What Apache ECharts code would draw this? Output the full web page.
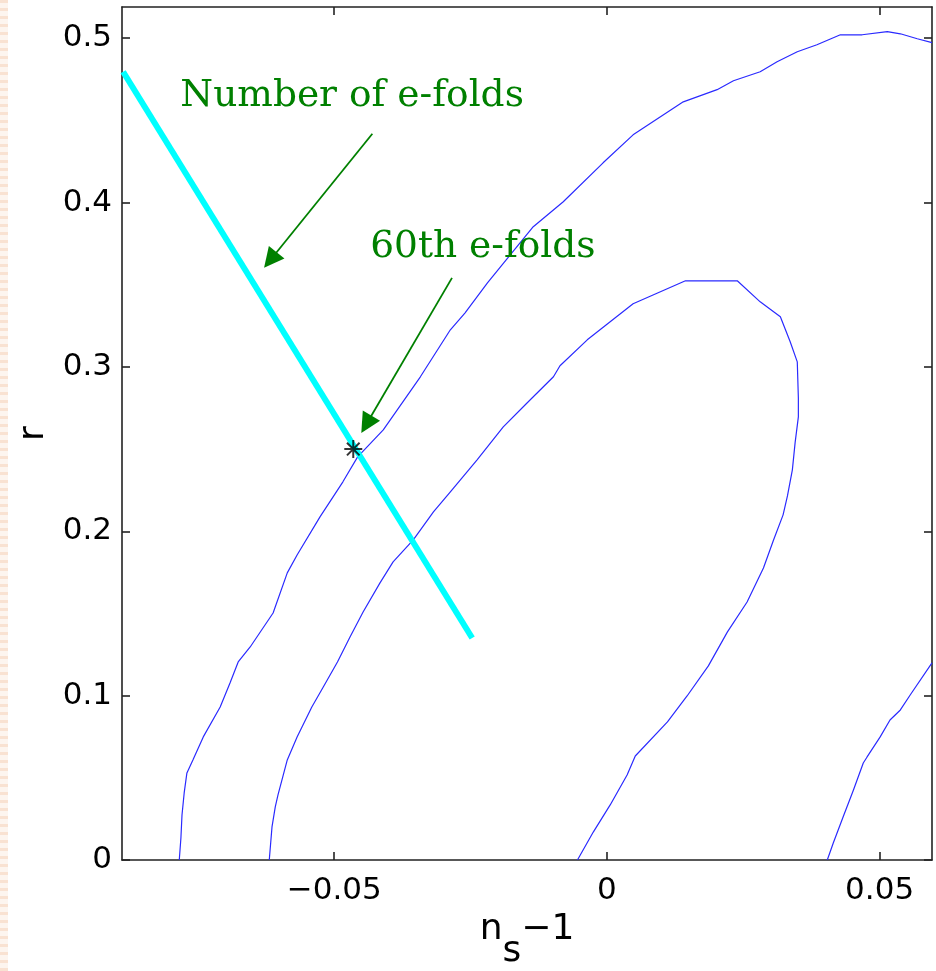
<!DOCTYPE html>
<html>
<head>
<meta charset="utf-8">
<script src="https://cdn.jsdelivr.net/npm/echarts@6/dist/echarts.min.js"></script>
<style>
  html, body { margin: 0; padding: 0; background: #ffffff; }
  #chart { width: 936px; height: 971px; }
</style>
</head>
<body>
<div id="chart"></div>
<script>
// Axis extents and tick values
const xRange = [-0.0889, 0.0596];
const yRange = [0, 0.519];
const xTicks = [-0.05, 0, 0.05];
const yTicks = [0, 0.1, 0.2, 0.3, 0.4, 0.5];

// Likelihood contours in the (n_s - 1, r) plane
const outerContour = [
  [-0.0784, 0.0000], [-0.0781, 0.0134], [-0.0779, 0.0274], [-0.0775, 0.0408],
  [-0.0770, 0.0530], [-0.0759, 0.0609], [-0.0740, 0.0749], [-0.0709, 0.0931],
  [-0.0691, 0.1077], [-0.0676, 0.1205], [-0.0654, 0.1296], [-0.0612, 0.1503],
  [-0.0586, 0.1747], [-0.0568, 0.1856], [-0.0526, 0.2088], [-0.0484, 0.2301],
  [-0.0457, 0.2453], [-0.0410, 0.2617], [-0.0342, 0.2940], [-0.0287, 0.3226],
  [-0.0260, 0.3329], [-0.0219, 0.3512], [-0.0135, 0.3853], [-0.0080, 0.4005],
  [-0.0007, 0.4242], [0.0048, 0.4412], [0.0140, 0.4613], [0.0202, 0.4687],
  [0.0232, 0.4741], [0.0281, 0.4796], [0.0312, 0.4857], [0.0349, 0.4918],
  [0.0385, 0.4960], [0.0428, 0.5021], [0.0468, 0.5021], [0.0514, 0.5040],
  [0.0538, 0.5027], [0.0569, 0.4997], [0.0596, 0.4973]
];
const innerContour = [
  [-0.0619, 0.0000], [-0.0614, 0.0201], [-0.0608, 0.0323], [-0.0603, 0.0396],
  [-0.0586, 0.0609], [-0.0568, 0.0749], [-0.0541, 0.0931], [-0.0520, 0.1053],
  [-0.0494, 0.1205], [-0.0471, 0.1357], [-0.0447, 0.1509], [-0.0416, 0.1686],
  [-0.0392, 0.1814], [-0.0355, 0.1948], [-0.0318, 0.2118], [-0.0287, 0.2240],
  [-0.0238, 0.2435], [-0.0190, 0.2635], [-0.0146, 0.2782], [-0.0098, 0.2940],
  [-0.0086, 0.3007], [-0.0036, 0.3165], [0.0048, 0.3384], [0.0144, 0.3524],
  [0.0239, 0.3524], [0.0281, 0.3396], [0.0318, 0.3305], [0.0336, 0.3153],
  [0.0349, 0.3031], [0.0351, 0.2812], [0.0351, 0.2696], [0.0345, 0.2538],
  [0.0340, 0.2374], [0.0331, 0.2215], [0.0323, 0.2100], [0.0305, 0.1942],
  [0.0287, 0.1777], [0.0257, 0.1570], [0.0221, 0.1388], [0.0186, 0.1181],
  [0.0147, 0.0998], [0.0111, 0.0840], [0.0052, 0.0633], [0.0037, 0.0517],
  [0.0006, 0.0335], [-0.0025, 0.0170], [-0.0054, 0.0000]
];
const cornerContour = [
  [0.0404, 0.0000], [0.0415, 0.0103], [0.0433, 0.0262], [0.0452, 0.0426],
  [0.0470, 0.0590], [0.0477, 0.0627], [0.0501, 0.0749], [0.0519, 0.0852],
  [0.0538, 0.0913], [0.0556, 0.1004], [0.0596, 0.1199]
];

// Model prediction as the number of e-folds varies, and the 60th e-fold point
const efoldsTrack = [[-0.0887, 0.4796], [-0.0247, 0.1351]];
const sixtiethEfold = [[-0.0465, 0.250]];

// Annotations: text anchors (left end, baseline) and arrows (tail -> head)
const noteTexts = ['Number of e-folds', '60th e-folds'];
const noteAnchors = [[-0.0782, 0.4570], [-0.0434, 0.3652]];
const arrowTails = [[-0.0430, 0.4419], [-0.0284, 0.3542]];
const arrowHeads = [[-0.0617, 0.3651], [-0.0441, 0.2651]];

const green = '#008000';
const contourStyle = { color: '#2a2aff', width: 1.2 };
const tickFont = { fontFamily: 'DejaVu Sans', fontSize: 31, color: '#000' };

function fmt(v) {
  if (v === 0) return '0';
  return (v < 0 ? '\u2212' : '') + String(Math.abs(v));
}

// Striped border strip along the left edge
const stripe = document.createElement('canvas');
stripe.width = 8; stripe.height = 8;
(function () {
  const c = stripe.getContext('2d');
  c.fillStyle = '#fdf5ef'; c.fillRect(0, 0, 8, 8);
  c.fillStyle = '#f9e2d2'; c.fillRect(0, 0, 8, 3);
})();

const chart = echarts.init(document.getElementById('chart'), null, { renderer: 'canvas' });

const frameLine = { show: true, onZero: false, lineStyle: { color: '#222', width: 1.6 } };
const innerTick = (vals) => ({ show: true, inside: true, length: 8, customValues: vals, lineStyle: { color: '#222', width: 1.6 } });
const nameRich = (va) => ({ fontFamily: 'DejaVu Sans', fontSize: 36, color: '#000', lineHeight: 58, verticalAlign: va });

chart.setOption({
  animation: false,
  backgroundColor: '#ffffff',
  grid: { left: 122, right: 4, top: 7, bottom: 111, show: false, containLabel: false, outerBoundsMode: 'none' },
  xAxis: [
    {
      type: 'value', min: xRange[0], max: xRange[1], position: 'bottom',
      axisLine: frameLine, axisTick: innerTick(xTicks), splitLine: { show: false },
      axisLabel: Object.assign({ customValues: xTicks, margin: 15, formatter: fmt }, tickFont),
      name: '{n|n}{s|s}{m|\u22121}', nameLocation: 'middle', nameGap: 52, nameMoveOverlap: false,
      nameTextStyle: { rich: { n: nameRich('top'), s: nameRich('bottom'), m: nameRich('top') } }
    },
    {
      type: 'value', min: xRange[0], max: xRange[1], position: 'top',
      axisLine: frameLine, axisTick: innerTick(xTicks), splitLine: { show: false },
      axisLabel: { show: false }
    }
  ],
  yAxis: [
    {
      type: 'value', min: yRange[0], max: yRange[1], position: 'left',
      axisLine: frameLine, axisTick: innerTick(yTicks), splitLine: { show: false },
      axisLabel: Object.assign({ customValues: yTicks, margin: 10, formatter: fmt }, tickFont),
      name: 'r', nameLocation: 'middle', nameRotate: 90, nameGap: 70, nameMoveOverlap: false,
      nameTextStyle: { fontFamily: 'DejaVu Sans', fontSize: 36, color: '#000' }
    },
    {
      type: 'value', min: yRange[0], max: yRange[1], position: 'right',
      axisLine: frameLine, axisTick: innerTick(yTicks), splitLine: { show: false },
      axisLabel: { show: false }
    }
  ],
  series: [
    { name: 'outer contour', type: 'line', data: outerContour, showSymbol: false, lineStyle: contourStyle, z: 2 },
    { name: 'inner contour', type: 'line', data: innerContour, showSymbol: false, lineStyle: contourStyle, z: 2 },
    { name: 'corner contour', type: 'line', data: cornerContour, showSymbol: false, lineStyle: contourStyle, z: 2 },
    { name: 'e-folds', type: 'line', data: efoldsTrack, showSymbol: false, lineStyle: { color: '#00ffff', width: 6, cap: 'butt' }, z: 3 },
    {
      name: '60th e-fold', type: 'scatter', data: sixtiethEfold, z: 5,
      symbol: 'path://M0,-10L0,10M-10,0L10,0M-7,-7L7,7M-7,7L7,-7',
      symbolSize: 18,
      itemStyle: { color: 'rgba(0,0,0,0)', borderColor: '#000', borderWidth: 2 }
    },
    {
      name: 'arrows', type: 'lines', coordinateSystem: 'cartesian2d', z: 4,
      symbol: ['none', 'triangle'], symbolSize: [14, 20],
      lineStyle: { color: green, width: 1.8, opacity: 1 },
      itemStyle: { color: green },
      data: arrowTails.map((t, i) => ({ coords: [t, arrowHeads[i]] }))
    }
  ]
});

// Annotation texts placed from their data anchors
const noteSize = 37.5;
const graphics = [{
  type: 'rect', left: 0, top: 0, z: 0, silent: true,
  shape: { width: 8, height: 971 },
  style: { fill: { image: stripe, repeat: 'repeat' } }
}];
noteAnchors.forEach((a, i) => {
  const p = chart.convertToPixel({ gridIndex: 0 }, a);
  graphics.push({
    type: 'text', x: p[0], y: p[1] - noteSize * 0.34, z: 10,
    style: {
      text: noteTexts[i], fill: green, font: noteSize + 'px "DejaVu Serif"',
      textAlign: 'left', textVerticalAlign: 'middle', verticalAlign: 'middle'
    }
  });
});
chart.setOption({ graphic: graphics });
</script>
</body>
</html>
